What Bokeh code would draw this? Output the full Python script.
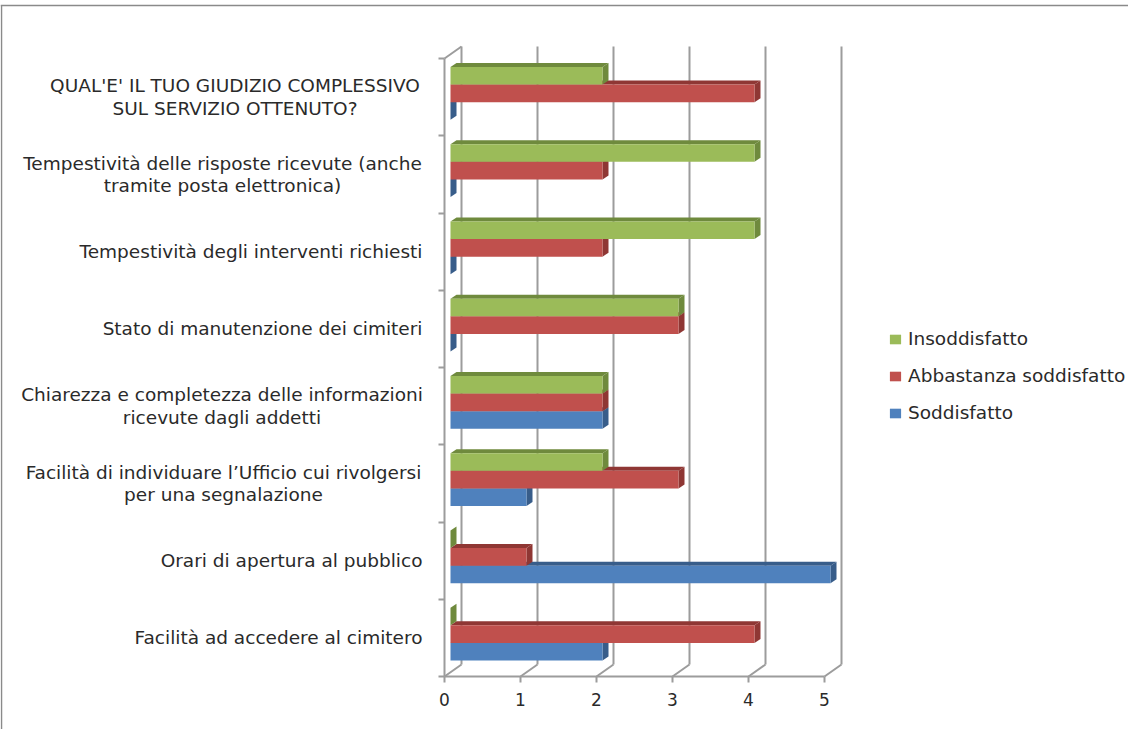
from bokeh.plotting import figure, ColumnDataSource
from bokeh.models import Range1d, FixedTicker, LinearAxis, Legend, LegendItem
from bokeh.embed import file_html
from bokeh.resources import INLINE
from bokeh.core.properties import value

categories = [
    "Facilità ad accedere al cimitero",
    "Orari di apertura al pubblico",
    "Facilità di individuare l’Ufficio cui rivolgersi\nper una segnalazione",
    "Chiarezza e completezza delle informazioni\nricevute dagli addetti",
    "Stato di manutenzione dei cimiteri",
    "Tempestività degli interventi richiesti",
    "Tempestività delle risposte ricevute (anche\ntramite posta elettronica)",
    "QUAL'E' IL TUO GIUDIZIO COMPLESSIVO\nSUL SERVIZIO OTTENUTO?",
]
soddisfatto = [2, 5, 1, 2, 0, 0, 0, 0]
abbastanza = [4, 1, 3, 2, 3, 2, 2, 4]
insoddisfatto = [0, 0, 2, 2, 3, 4, 4, 2]
x_ticks = [0, 1, 2, 3, 4, 5]

W, H = 1128, 729
PX_X, PX_Y = 76.0, 77.25       # pixels per data unit
LEFT_PX, BOTTOM_PX = 444, 676  # axis origin inside the plot, pixels from left / top
FONT_NAME = "DejaVu Sans"
FONT = value(FONT_NAME)
LABEL_SIZE = "18.5px"
TEXT = "#2a2a2a"
GRID = "#9c9c9c"

xs = -LEFT_PX / PX_X
ys_top = BOTTOM_PX / PX_Y
ys_bot = -(H - BOTTOM_PX) / PX_Y
p = figure(width=W, height=H, output_backend="svg", toolbar_location=None,
           x_range=Range1d(xs, xs + W / PX_X), y_range=Range1d(ys_bot, ys_top),
           x_axis_type=None, y_axis_type=None,
           min_border_left=0, min_border_right=0, min_border_top=0,
           min_border_bottom=0, outline_line_color=None)
p.grid.visible = False
p.background_fill_color = "white"


def dx(px):
    return px / PX_X


def dy(px):
    return px / PX_Y


# outer frame of the picture
p.segment([xs + dx(1)], [ys_bot], [xs + dx(1)], [ys_top - dy(5)], line_color="#8a8a8a", line_width=1.5)
p.segment([xs], [ys_top - dy(5)], [xs + W / PX_X], [ys_top - dy(5)], line_color="#8a8a8a", line_width=1.5)

# walls: back gridlines and floor diagonals
n = len(categories)
back_x = [t + dx(17) for t in x_ticks]
p.segment(back_x, [dy(12)] * 6, back_x, [n + dy(12)] * 6, line_color=GRID, line_width=2)
p.segment(x_ticks, [0] * 6, back_x, [dy(12)] * 6, line_color=GRID, line_width=2)
p.segment([0], [n], [dx(17)], [n + dy(12)], line_color=GRID, line_width=2)

# bars
BAR = 17.6 / PX_Y
BASE = 16 / PX_Y
DEPTH_X, DEPTH_Y = dx(6), dy(4)
START = dx(6)
series = [
    ("Soddisfatto", soddisfatto, "#4f81bd", "#385d8a", 0),
    ("Abbastanza soddisfatto", abbastanza, "#c0504d", "#8f3734", 1),
    ("Insoddisfatto", insoddisfatto, "#9bbb59", "#6f8a3d", 2),
]
fronts = {}
for name, vals, col, dark, k in series:
    bottoms = [i + BASE + k * BAR for i in range(n)]
    tops = [b + BAR for b in bottoms]
    rights = [START + v for v in vals]
    p.patches([[START, r, r + DEPTH_X, START + DEPTH_X] for r in rights],
              [[t, t, t + DEPTH_Y, t + DEPTH_Y] for t in tops],
              fill_color=dark, line_color=None)
    p.patches([[r, r + DEPTH_X, r + DEPTH_X, r] for r in rights],
              [[b, b + DEPTH_Y, t + DEPTH_Y, t] for b, t in zip(bottoms, tops)],
              fill_color=dark, line_color=None)
    keep = [i for i, v in enumerate(vals) if v > 0]
    fronts[name] = p.quad(left=[START] * len(keep), right=[rights[i] for i in keep],
                          bottom=[bottoms[i] for i in keep], top=[tops[i] for i in keep],
                          fill_color=col, line_color=None)

# axes
xaxis = LinearAxis(ticker=FixedTicker(ticks=x_ticks), bounds=(0, 5), fixed_location=0,
                   axis_line_color=GRID, axis_line_width=2,
                   major_tick_line_color=GRID, major_tick_line_width=2,
                   major_tick_in=0, major_tick_out=6, minor_tick_line_color=None,
                   major_label_text_font=FONT_NAME, major_label_text_font_size="17px",
                   major_label_text_color=TEXT, major_label_standoff=10)
p.add_layout(xaxis, "below")
yaxis = LinearAxis(ticker=FixedTicker(ticks=list(range(n + 1))), bounds=(0, n), fixed_location=0,
                   axis_line_color=GRID, axis_line_width=2,
                   major_tick_line_color=GRID, major_tick_line_width=2,
                   major_tick_in=0, major_tick_out=6, minor_tick_line_color=None,
                   major_label_text_color=None, major_label_text_font_size="1px")
p.add_layout(yaxis, "left")

# category labels
RIGHT_OFF = -22
half_width = {2: 199, 3: 200.5, 6: 200, 7: 187.5}
single = [i for i in range(n) if "\n" not in categories[i]]
double = [i for i in range(n) if "\n" in categories[i]]
p.text(x=[0] * len(single), y=[i + 0.5 for i in single], text=[categories[i] for i in single],
       x_offset=RIGHT_OFF, text_align="right", text_baseline="middle",
       text_font=FONT, text_font_size=LABEL_SIZE, text_color=TEXT)
p.text(source=ColumnDataSource(dict(x=[0] * len(double), y=[i + 0.5 for i in double],
                                    t=[categories[i] for i in double],
                                    o=[RIGHT_OFF - half_width[i] for i in double])),
       x="x", y="y", text="t", x_offset="o", text_align="center", text_baseline="middle",
       text_font=FONT, text_font_size=LABEL_SIZE, text_color=TEXT, text_line_height=1.06)

# legend
legend = Legend(items=[LegendItem(label=s[0], renderers=[fronts[s[0]]]) for s in reversed(series)],
                location=(888, 306), orientation="vertical",
                glyph_width=14, glyph_height=12, label_standoff=6, spacing=16,
                label_text_font=FONT_NAME, label_text_font_size=LABEL_SIZE, label_text_color=TEXT,
                border_line_color=None, background_fill_alpha=0, padding=0, margin=0)
p.add_layout(legend, "center")

open("out.html", "w").write(file_html(p, INLINE))
